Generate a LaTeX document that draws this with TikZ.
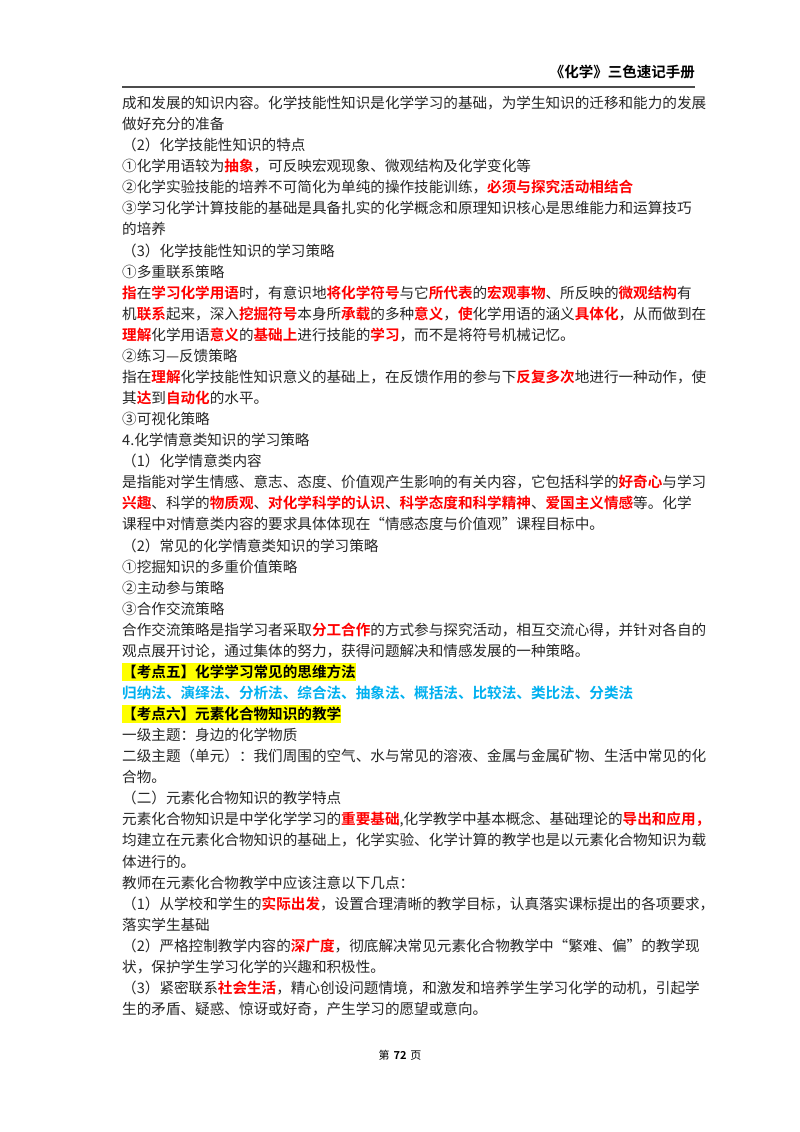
\documentclass[tikz,border=0pt]{standalone}
\usepackage{fontspec}
\setmainfont{Noto Sans CJK SC}[BoldFont={Noto Sans CJK SC Bold}]
\XeTeXlinebreaklocale "zh"
\XeTeXlinebreakskip=0pt plus 3pt
\definecolor{redc}{RGB}{255,0,0}
\definecolor{bluec}{RGB}{0,176,240}
\definecolor{hly}{RGB}{255,255,0}
\newcommand\R[1]{\textcolor{redc}{\bfseries #1}}
\newcommand\myline[3]{\node[txt] (#1) at (122,#2) {#3};}
\newcommand\myfull[3]{\node[txt] (#1) at (122,#2) {\makebox[573pt][s]{#3}};}
\tikzset{txt/.style={anchor=west,inner sep=0pt,font=\fontsize{14.6}{16}\selectfont,text=black!85}}
\begin{document}
\begin{tikzpicture}[x=1pt,y=-1pt]
\useasboundingbox (0,0) rectangle (800,1132);
\fill[white] (0,0) rectangle (800,1132);
\node[anchor=east,inner sep=0pt,font=\fontsize{14.5}{16}\selectfont\bfseries] (hdr) at (695,72) {《化学》三色速记手册};
\draw[line width=1.2pt,black!70] (122,87) -- (695,87);
\myfull{l1}{103}{成和发展的知识内容。化学技能性知识是化学学习的基础，为学生知识的迁移和能力的发展}
\myline{l2}{124.07}{做好充分的准备}
\myline{l3}{145.14}{（2）化学技能性知识的特点}
\myline{l4}{166.21}{①化学用语较为\R{抽象}，可反映宏观现象、微观结构及化学变化等}
\myline{l5}{187.28}{②化学实验技能的培养不可简化为单纯的操作技能训练，\R{必须与探究活动相结合}}
\myfull{l6}{208.35}{③学习化学计算技能的基础是具备扎实的化学概念和原理知识核心是思维能力和运算技巧}
\myline{l7}{229.42}{的培养}
\myline{l8}{250.49}{（3）化学技能性知识的学习策略}
\myline{l9}{271.56}{①多重联系策略}
\myfull{l10}{292.63}{\R{指}在\R{学习化学用语}时，有意识地\R{将化学符号}与它\R{所代表}的\R{宏观事物}、所反映的\R{微观结构}有}
\myfull{l11}{313.70}{机\R{联系}起来，深入\R{挖掘符号}本身所\R{承载}的多种\R{意义}，\R{使}化学用语的涵义\R{具体化}，从而做到在}
\myline{l12}{334.77}{\R{理解}化学用语\R{意义}的\R{基础上}进行技能的\R{学习}，而不是将符号机械记忆。}
\myline{l13}{355.84}{②练习—反馈策略}
\myfull{l14}{376.91}{指在\R{理解}化学技能性知识意义的基础上，在反馈作用的参与下\R{反复多次}地进行一种动作，使}
\myline{l15}{397.98}{其\R{达}到\R{自动化}的水平。}
\myline{l16}{419.05}{③可视化策略}
\myline{l17}{440.12}{4.化学情意类知识的学习策略}
\myline{l18}{461.19}{（1）化学情意类内容}
\myfull{l19}{482.26}{是指能对学生情感、意志、态度、价值观产生影响的有关内容，它包括科学的\R{好奇心}与学习}
\myfull{l20}{503.33}{\R{兴趣}、科学的\R{物质观}、\R{对化学科学的认识}、\R{科学态度和科学精神}、\R{爱国主义情感}等。化学}
\myline{l21}{524.40}{课程中对情意类内容的要求具体体现在“情感态度与价值观”课程目标中。}
\myline{l22}{545.47}{（2）常见的化学情意类知识的学习策略}
\myline{l23}{566.54}{①挖掘知识的多重价值策略}
\myline{l24}{587.61}{②主动参与策略}
\myline{l25}{608.68}{③合作交流策略}
\myfull{l26}{629.75}{合作交流策略是指学习者采取\R{分工合作}的方式参与探究活动，相互交流心得，并针对各自的}
\myline{l27}{650.82}{观点展开讨论，通过集体的努力，获得问题解决和情感发展的一种策略。}
\node[txt,fill=hly,inner ysep=2pt,font=\fontsize{14.6}{16}\selectfont\bfseries,text=black] (l28) at (122,671.89) {【考点五】化学学习常见的思维方法};
\node[txt,font=\fontsize{14.6}{16}\selectfont\bfseries,text=bluec] (l29) at (122,692.96) {归纳法、演绎法、分析法、综合法、抽象法、概括法、比较法、类比法、分类法};
\node[txt,fill=hly,inner ysep=2pt,font=\fontsize{14.6}{16}\selectfont\bfseries,text=black] (l30) at (122,714.03) {【考点六】元素化合物知识的教学};
\myline{l31}{735.10}{一级主题：身边的化学物质}
\myfull{l32}{756.17}{二级主题（单元）：我们周围的空气、水与常见的溶液、金属与金属矿物、生活中常见的化}
\myline{l33}{777.24}{合物。}
\myline{l34}{798.31}{（二）元素化合物知识的教学特点}
\myfull{l35}{819.38}{元素化合物知识是中学化学学习的\R{重要基础},化学教学中基本概念、基础理论的\R{导出和应用，}}
\myfull{l36}{840.45}{均建立在元素化合物知识的基础上，化学实验、化学计算的教学也是以元素化合物知识为载}
\myline{l37}{861.52}{体进行的。}
\myline{l38}{882.59}{教师在元素化合物教学中应该注意以下几点：}
\myfull{l39}{903.66}{（1）从学校和学生的\R{实际出发}，设置合理清晰的教学目标，认真落实课标提出的各项要求，}
\myline{l40}{924.73}{落实学生基础}
\myfull{l41}{945.80}{（2）严格控制教学内容的\R{深广度}，彻底解决常见元素化合物教学中“繁难、偏”的教学现}
\myline{l42}{966.87}{状，保护学生学习化学的兴趣和积极性。}
\myfull{l43}{987.94}{（3）紧密联系\R{社会生活}，精心创设问题情境，和激发和培养学生学习化学的动机，引起学}
\myline{l44}{1009.01}{生的矛盾、疑惑、惊讶或好奇，产生学习的愿望或意向。}
\node[inner sep=0pt,font=\fontsize{11}{12}\selectfont] (foot) at (400,1055) {第\hspace{4pt}\textbf{72}\hspace{4pt}页};
\end{tikzpicture}
\end{document}
